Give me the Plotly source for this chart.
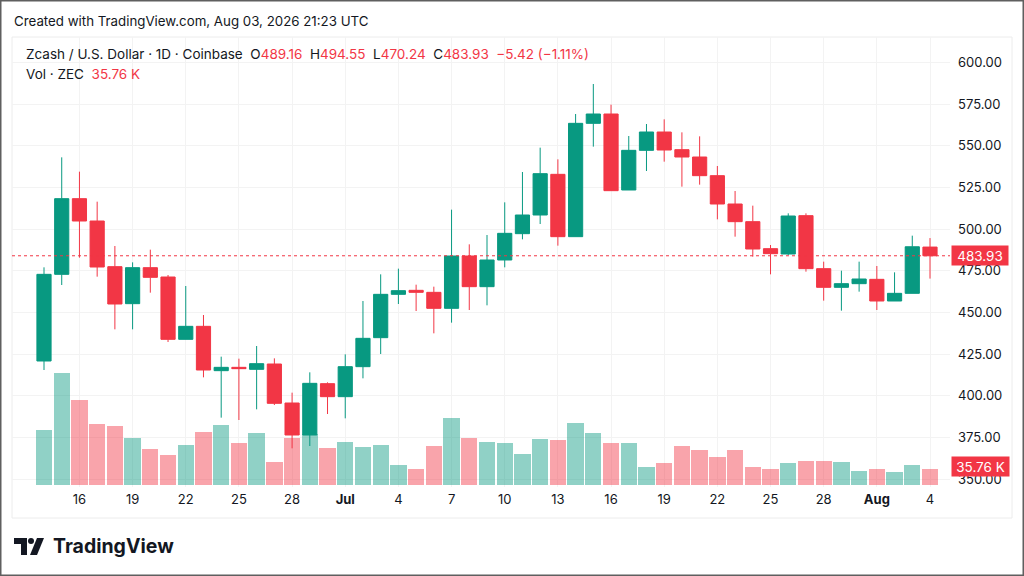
import plotly.graph_objects as go

# ---------------- data ----------------
dates = (
    [f"2026-06-{d:02d}" for d in range(14, 31)]
    + [f"2026-07-{d:02d}" for d in range(1, 31)]
    + [f"2026-08-{d:02d}" for d in range(1, 5)]
)

opens = [420.8, 472.8, 518.2, 504.8, 477.4, 455.2, 476.8, 471.2, 433.8, 441.6,
         415.0, 417.0, 415.8, 419.0, 395.6, 376.4, 407.2,
         399.4, 417.4, 434.8, 460.8, 463.2, 462.0, 452.4, 483.8, 465.4, 481.4,
         497.2, 508.4, 532.8, 495.4, 563.4, 569.0, 523.4, 547.2, 558.2, 547.6,
         543.2, 532.0, 515.0, 504.4, 488.2, 485.0, 508.0, 476.2, 465.0, 467.2,
         469.8, 456.8, 461.4, 489.16]
highs = [477.0, 543.0, 534.4, 516.4, 489.8, 480.0, 487.6, 472.4, 465.8, 448.4,
         423.4, 422.2, 429.8, 422.4, 401.8, 414.0, 408.0,
         424.8, 456.8, 472.8, 476.2, 466.6, 465.4, 511.6, 490.8, 496.4, 516.0,
         534.2, 548.8, 541.8, 569.0, 587.0, 574.6, 555.8, 563.0, 565.8, 558.0,
         555.6, 537.8, 522.8, 514.0, 490.4, 509.4, 509.4, 480.4, 475.0, 480.4,
         477.8, 474.0, 496.0, 494.55]
lows = [415.4, 466.4, 482.8, 471.4, 439.8, 439.8, 461.8, 432.2, 433.8, 411.0,
        386.8, 385.4, 391.8, 394.4, 368.4, 369.8, 389.0,
        386.4, 410.4, 425.0, 455.0, 450.8, 437.4, 443.8, 451.4, 454.2, 477.0,
        493.8, 503.0, 490.0, 495.4, 549.4, 523.0, 523.4, 534.8, 540.4, 525.4,
        526.6, 505.8, 495.4, 483.4, 472.8, 484.4, 474.4, 457.0, 451.0, 462.4,
        451.4, 456.8, 461.4, 470.24]
closes = [472.8, 518.2, 504.8, 477.2, 455.0, 476.8, 471.0, 433.8, 441.6, 415.4,
          417.0, 416.2, 419.2, 395.4, 376.4, 407.4, 399.4,
          417.4, 434.4, 460.8, 463.0, 462.0, 452.4, 483.8, 465.4, 481.4, 497.4,
          508.4, 533.2, 495.4, 563.4, 569.0, 523.0, 547.2, 558.2, 547.4, 543.2,
          532.0, 515.0, 504.4, 488.0, 485.2, 507.8, 476.2, 465.0, 467.2, 470.0,
          456.8, 461.4, 489.35, 483.93]
volumes_k = [120, 243, 185, 133, 127, 102, 78, 64, 86, 114,
             130, 91, 113, 49, 102, 111, 80,
             93, 82, 87, 44, 35, 85, 145, 102, 93, 90,
             68, 99, 97, 134, 113, 91, 91, 39, 47, 84,
             75, 61, 75, 38, 35, 47, 52, 52, 49, 31,
             35, 28.5, 43, 35.76]

tick_dates = ["2026-06-16", "2026-06-19", "2026-06-22", "2026-06-25", "2026-06-28",
              "2026-07-01", "2026-07-04", "2026-07-07", "2026-07-10", "2026-07-13",
              "2026-07-16", "2026-07-19", "2026-07-22", "2026-07-25", "2026-07-28",
              "2026-08-01", "2026-08-04"]
tick_labels = ["16", "19", "22", "25", "28", "<b>Jul</b>", "4", "7", "10", "13",
               "16", "19", "22", "25", "28", "<b>Aug</b>", "4"]
price_ticks = [350, 375, 400, 425, 450, 475, 500, 525, 550, 575, 600]

# ---------------- style ----------------
UP = "#089981"
DOWN = "#F23645"
UP_VOL = "rgba(8,153,129,0.45)"
DOWN_VOL = "rgba(242,54,69,0.45)"
TXT = "#131722"
FONT = "Inter, 'Liberation Sans', sans-serif"
W, H = 1024, 576
L, R, T, B = 12, 950, 37, 487   # plot area in pixels


def px(x):
    return (x - L) / (R - L)


def py(y):
    return (B - y) / (B - T)


vol_colors = [UP_VOL if c >= o else DOWN_VOL for o, c in zip(opens, closes)]

fig = go.Figure()
fig.add_trace(go.Bar(
    x=dates, y=volumes_k, yaxis="y2", marker=dict(color=vol_colors, line=dict(width=0)),
    width=0.92, hoverinfo="skip", showlegend=False,
))
fig.add_trace(go.Candlestick(
    x=dates, open=opens, high=highs, low=lows, close=closes,
    increasing=dict(line=dict(color=UP, width=1), fillcolor=UP),
    decreasing=dict(line=dict(color=DOWN, width=1), fillcolor=DOWN),
    whiskerwidth=0, showlegend=False, yaxis="y",
))

last_o, last_h, last_l, last_c = opens[-1], highs[-1], lows[-1], closes[-1]
chg = last_c - closes[-2]
pct = chg / closes[-2] * 100


def red(s):
    return f"<span style='color:{DOWN}'>{s}</span>"


def fmt_signed(v):
    return ("−" if v < 0 else "+") + f"{abs(v):.2f}"


legend_line = (
    "Zcash / U.S. Dollar · 1D · Coinbase  "
    f"O{red(f'{last_o:.2f}')}  H{red(f'{last_h:.2f}')}  "
    f"L{red(f'{last_l:.2f}')}  C{red(f'{last_c:.2f}')}  "
    + red(f"{fmt_signed(chg)} ({fmt_signed(pct)}%)")
)
vol_line = "Vol · ZEC  " + red(f"{volumes_k[-1]:.2f} K")

annotations = [
    dict(text="Created with TradingView.com, Aug 03, 2026 21:23 UTC", x=px(12), y=py(21),
         xref="paper", yref="paper", xanchor="left", yanchor="middle", showarrow=False,
         font=dict(size=13.3, color=TXT, family=FONT)),
    dict(text=legend_line, x=px(24), y=py(54), xref="paper", yref="paper",
         xanchor="left", yanchor="middle", showarrow=False,
         font=dict(size=13.5, color=TXT, family=FONT)),
    dict(text=vol_line, x=px(24), y=py(74), xref="paper", yref="paper",
         xanchor="left", yanchor="middle", showarrow=False,
         font=dict(size=13.5, color=TXT, family=FONT)),
    dict(text=f"{last_c:.2f}", x=px(951), y=last_c, xref="paper", yref="y",
         xanchor="left", yanchor="middle", showarrow=False, bgcolor=DOWN,
         width=52, height=15, borderpad=2,
         font=dict(size=13.5, color="white", family=FONT)),
    dict(text=f"{volumes_k[-1]:.2f} K", x=px(951), y=volumes_k[-1], xref="paper", yref="y2",
         xanchor="left", yanchor="middle", showarrow=False, bgcolor=DOWN, yshift=2,
         width=53, height=15, borderpad=2,
         font=dict(size=13.5, color="white", family=FONT)),
    dict(text="<b>TradingView</b>", x=px(51), y=py(546), xref="paper", yref="paper",
         xanchor="left", yanchor="middle", showarrow=False,
         font=dict(size=19.5, color=TXT, family=FONT)),
]

shapes = [
    # outer frame
    dict(type="rect", xref="paper", yref="paper", x0=px(0.5), x1=px(1023.5), y0=py(575.5), y1=py(0.5),
         line=dict(color="#5f5f5f", width=2), layer="above"),
    # chart pane border
    dict(type="rect", xref="paper", yref="paper", x0=px(12), x1=px(1012), y0=py(518), y1=py(37),
         line=dict(color="#ececec", width=1), layer="below"),
    # last price dotted line
    dict(type="line", xref="paper", yref="y", x0=0, x1=1, y0=last_c, y1=last_c,
         line=dict(color=DOWN, width=1, dash="dot")),
    # TradingView logo mark
    dict(type="path", xref="paper", yref="paper", fillcolor=TXT, line=dict(width=0),
         path=f"M {px(14)} {py(538)} L {px(27)} {py(538)} L {px(27)} {py(555)} L {px(21)} {py(555)} "
              f"L {px(21)} {py(544)} L {px(14)} {py(544)} Z"),
    dict(type="circle", xref="paper", yref="paper", fillcolor=TXT, line=dict(width=0),
         x0=px(28), x1=px(34), y0=py(544), y1=py(538)),
    dict(type="path", xref="paper", yref="paper", fillcolor=TXT, line=dict(width=0),
         path=f"M {px(37)} {py(538)} L {px(44)} {py(538)} L {px(37)} {py(555)} L {px(30)} {py(555)} Z"),
]

n = len(dates)
step = (930 - 44) / (n - 1)
x_lo = -(44 - L) / step
x_hi = (n - 1) + (R - 930) / step

vol_per_px = volumes_k[-1] / 16.5
fig.update_layout(
    width=W, height=H,
    margin=dict(l=L, r=W - R, t=T, b=H - B, pad=0),
    paper_bgcolor="white", plot_bgcolor="white",
    font=dict(family=FONT, color=TXT, size=13),
    boxgap=0.2, boxgroupgap=0, bargap=0,
    showlegend=False,
    xaxis=dict(type="category", categoryorder="array", categoryarray=dates,
               range=[x_lo, x_hi], tickvals=tick_dates, ticktext=tick_labels,
               showgrid=True, gridcolor="#f3f3f3", gridwidth=1, ticks="",
               rangeslider=dict(visible=False), zeroline=False, showline=False,
               tickfont=dict(size=13, color=TXT, family=FONT), ticklabelstandoff=3),
    yaxis=dict(side="right", range=[350 + (479 - B) * 0.6, 350 + (479 - T) * 0.6],
               tickvals=price_ticks, tickformat=".2f", showgrid=True, gridcolor="#f3f3f3",
               zeroline=False, showline=False, ticks="", ticklabelstandoff=7,
               tickfont=dict(size=13, color=TXT, family=FONT)),
    yaxis2=dict(overlaying="y", side="left", showticklabels=False, showgrid=False,
                zeroline=False, range=[-(B - 485) * vol_per_px, (485 - T) * vol_per_px]),
    annotations=annotations, shapes=shapes,
)

fig.write_html("out.html", config={"displayModeBar": False},
               post_script="document.body.style.margin='0';document.body.style.overflow='hidden';")
